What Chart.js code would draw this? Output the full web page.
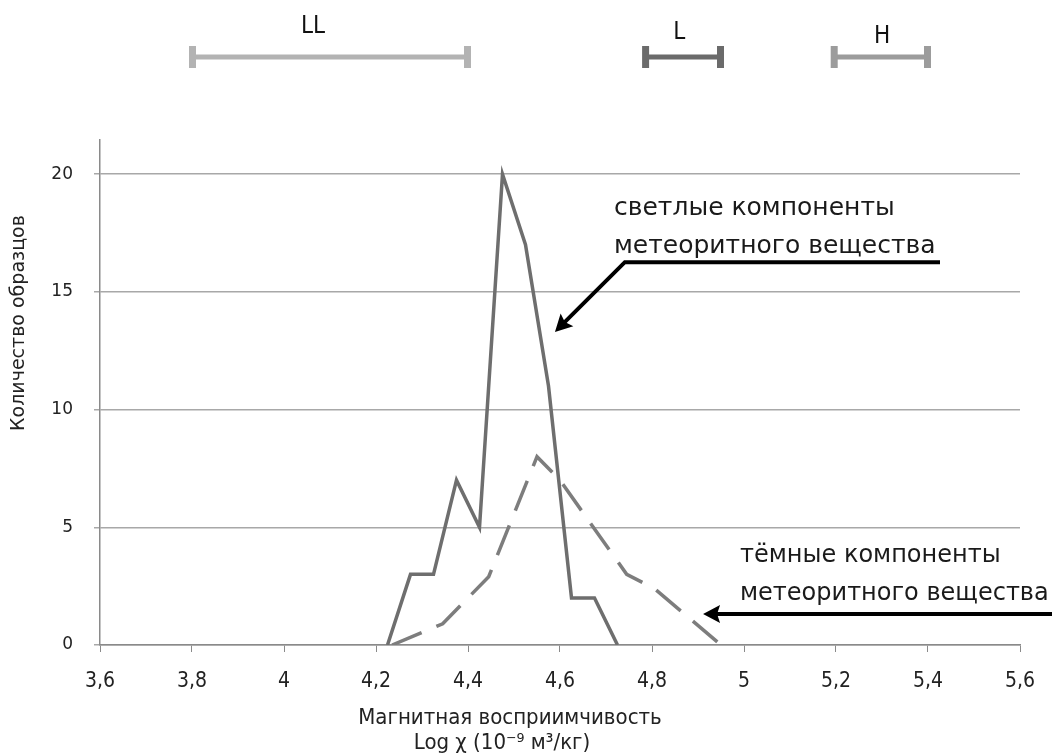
<!DOCTYPE html>
<html>
<head>
<meta charset="utf-8">
<script src="https://cdn.jsdelivr.net/npm/chart.js@4.4.0/dist/chart.umd.min.js"></script>
<style>
  html, body { margin: 0; padding: 0; background: #fff; }
  #wrap { width: 1057px; height: 753px; }
</style>
</head>
<body>
<div id="wrap"><canvas id="chart_susceptibility" width="1057" height="753"></canvas></div>
<script>
// light components (solid line)
var lightX = [4.225, 4.275, 4.325, 4.375, 4.425, 4.475, 4.525, 4.575, 4.625, 4.675, 4.725];
var lightY = [0, 3, 3, 7, 5, 20, 17, 11, 2, 2, 0];
// dark components (dashed line)
var darkX = [4.235, 4.345, 4.445, 4.55, 4.6, 4.745, 4.805, 4.95];
var darkY = [0, 0.9, 2.9, 8, 7, 3, 2.4, 0];
// chondrite groups ranges shown above the plot
var rangeNames = ['LL', 'L', 'H'];
var rangeFrom = [3.8, 4.785, 5.195];
var rangeTo = [4.4, 4.95, 5.4];
var rangeLabelAt = [4.063, 4.859, 5.30];
var rangeColors = ['#b3b3b3', '#6b6b6b', '#9c9c9c'];

function pts(xs, ys) {
    return xs.map(function (x, i) { return { x: x, y: ys[i] }; });
}

function fmtTick(v) {
    return String(Number(v.toFixed(1))).replace('.', ',');
}

var narrow = '"Liberation Sans Narrow", "DejaVu Sans Condensed", sans-serif';
var sans = '"DejaVu Sans", "Open Sans", sans-serif';

function arrowHead(ctx, tx, ty, dx, dy, len, half) {
    var l = Math.sqrt(dx * dx + dy * dy);
    dx /= l; dy /= l;
    var bx = tx - dx * len, by = ty - dy * len;
    ctx.beginPath();
    ctx.moveTo(tx, ty);
    ctx.lineTo(bx - dy * half, by + dx * half);
    ctx.lineTo(bx + dx * 3, by + dy * 3);
    ctx.lineTo(bx + dy * half, by - dx * half);
    ctx.closePath();
    ctx.fill();
}

var chart_susceptibility = new Chart(document.getElementById('chart_susceptibility'), {
    type: 'line',
    data: {
        datasets: [
            {
                label: 'светлые компоненты',
                data: pts(lightX, lightY),
                borderColor: '#6e6e6e',
                borderWidth: 3.5,
                pointRadius: 0,
                tension: 0
            },
            {
                label: 'тёмные компоненты',
                data: pts(darkX, darkY),
                borderColor: '#7d7d7d',
                borderWidth: 3.5,
                borderDash: [32, 16],
                pointRadius: 0,
                tension: 0
            }
        ]
    },
    options: {
        animation: false,
        responsive: false,
        layout: { padding: { top: 140, right: 37, left: 0, bottom: 0 } },
        plugins: {
            legend: { display: false },
            tooltip: { enabled: false }
        },
        scales: {
            x: {
                type: 'linear',
                min: 3.6,
                max: 5.6,
                afterFit: function (s) { s.height = 108; },
                ticks: {
                    stepSize: 0.2,
                    padding: 17,
                    color: '#222',
                    font: { family: narrow, size: 21 },
                    callback: function (v) { return fmtTick(v); }
                },
                grid: {
                    drawOnChartArea: false,
                    drawTicks: true,
                    tickLength: 7,
                    color: '#8a8a8a'
                },
                border: { color: '#8a8a8a', width: 1.5 }
            },
            y: {
                min: 0,
                max: 21.45,
                afterFit: function (s) { s.width = 100; },
                ticks: {
                    stepSize: 5,
                    includeBounds: false,
                    padding: 21,
                    color: '#222',
                    font: { family: sans, size: 17 }
                },
                grid: {
                    color: '#a8a8a8',
                    lineWidth: 1.5,
                    tickLength: 6
                },
                border: { color: '#8a8a8a', width: 1.5 }
            }
        }
    },
    plugins: [{
        id: 'whiteBg',
        beforeDraw: function (chart) {
            var ctx = chart.ctx;
            ctx.save();
            ctx.fillStyle = 'white';
            ctx.fillRect(0, 0, chart.width, chart.height);
            ctx.restore();
        }
    }, {
        id: 'extras',
        afterDraw: function (chart) {
            var ctx = chart.ctx;
            var xs = chart.scales.x, ys = chart.scales.y;
            ctx.save();

            // group ranges at the top
            var barY = 57;
            rangeNames.forEach(function (name, i) {
                var a = xs.getPixelForValue(rangeFrom[i]);
                var b = xs.getPixelForValue(rangeTo[i]);
                ctx.fillStyle = rangeColors[i];
                ctx.fillRect(a, barY - 2.5, b - a, 5);
                ctx.fillRect(a - 3, barY - 11, 7, 22);
                ctx.fillRect(b - 4, barY - 11, 7, 22);
                ctx.fillStyle = '#111';
                ctx.font = '24px ' + narrow;
                ctx.textAlign = 'center';
                ctx.textBaseline = 'middle';
                ctx.fillText(name, xs.getPixelForValue(rangeLabelAt[i]), [27, 33, 37][i]);
            });

            // axis titles
            ctx.fillStyle = '#222';
            ctx.font = '22px ' + narrow;
            ctx.textAlign = 'center';
            ctx.textBaseline = 'middle';
            ctx.fillText('Магнитная восприимчивость', 510, 718);
            ctx.fillText('Log χ (10⁻⁹ м³/кг)', 502, 743);

            ctx.save();
            ctx.translate(19, 323);
            ctx.rotate(-Math.PI / 2);
            ctx.font = '19px ' + sans;
            ctx.fillText('Количество образцов', 0, 0);
            ctx.restore();

            // annotations
            ctx.fillStyle = '#1a1a1a';
            ctx.font = '25px ' + sans;
            ctx.textAlign = 'left';
            ctx.fillText('светлые компоненты', 614, 208);
            ctx.fillText('метеоритного вещества', 614, 246);
            ctx.font = '24px ' + sans;
            ctx.fillText('тёмные компоненты', 740, 556);
            ctx.fillText('метеоритного вещества', 740, 594);

            ctx.strokeStyle = '#000';
            ctx.fillStyle = '#000';
            ctx.lineWidth = 4;
            var elbowX = xs.getPixelForValue(4.741), elbowY = ys.getPixelForValue(16.26);
            var tipX = xs.getPixelForValue(4.589), tipY = ys.getPixelForValue(13.3);
            ctx.beginPath();
            ctx.moveTo(940, elbowY);
            ctx.lineTo(elbowX, elbowY);
            ctx.lineTo(tipX + 8, tipY - 8);
            ctx.stroke();
            arrowHead(ctx, tipX, tipY, tipX - elbowX, tipY - elbowY, 17, 9);

            var dTipX = xs.getPixelForValue(4.911), dTipY = ys.getPixelForValue(1.32);
            ctx.beginPath();
            ctx.moveTo(1052, dTipY);
            ctx.lineTo(dTipX + 10, dTipY);
            ctx.stroke();
            arrowHead(ctx, dTipX, dTipY, -1, 0, 17, 9);

            ctx.restore();
        }
    }]
});
</script>
</body>
</html>
